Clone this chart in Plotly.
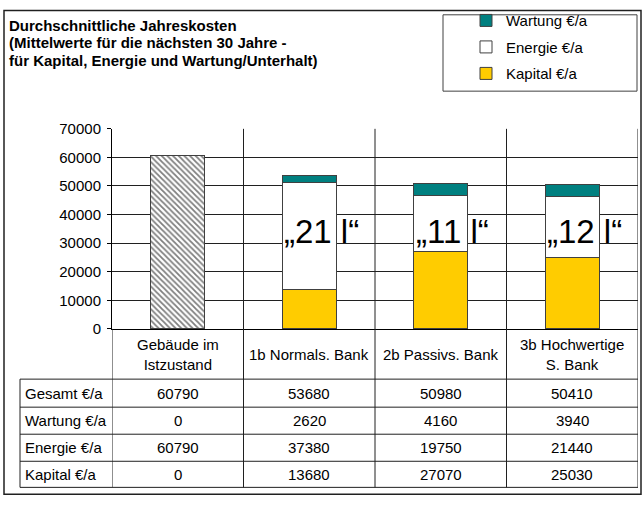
import plotly.graph_objects as go

# ---------------- data ----------------
categories = ["Gebäude im Istzustand", "1b Normals. Bank", "2b Passivs. Bank", "3b Hochwertige S. Bank"]
header_labels = ["Gebäude im<br>Istzustand", "1b Normals. Bank", "2b Passivs. Bank", "3b Hochwertige<br>S. Bank"]
wartung = [0, 2620, 4160, 3940]
energie = [60790, 37380, 19750, 21440]
kapital = [0, 13680, 27070, 25030]
bar_labels = ["", "„21 l“", "„11 l“", "„12 l“"]
row_names = ["Gesamt €/a", "Wartung €/a", "Energie €/a", "Kapital €/a"]
y_ticks = [0, 10000, 20000, 30000, 40000, 50000, 60000, 70000]
title_lines = ["Durchschnittliche Jahreskosten",
               "(Mittelwerte für die nächsten 30 Jahre -",
               "für Kapital, Energie und Wartung/Unterhalt)"]

gesamt = [w + e + k for w, e, k in zip(wartung, energie, kapital)]
table_rows = [gesamt, wartung, energie, kapital]

# ---------------- layout helpers ----------------
W, H = 643, 506
FONT = "Liberation Sans, Arial, sans-serif"


def PX(x):
    return x / W


def PY(y):
    return 1 - y / H


BARGAP = 0.59
LINE = "#202020"
EDGE = dict(color="#404040", width=1)

fig = go.Figure()
fig.add_trace(go.Bar(name="Kapital €/a", x=categories, y=kapital,
                     marker=dict(color="#FFCC00", line=EDGE),
                     legendgroup="k", legendrank=3))
fig.add_trace(go.Bar(name="Energie €/a", x=categories[1:], y=energie[1:],
                     marker=dict(color="#FFFFFF", line=EDGE),
                     legendgroup="e", legendrank=2))
fig.add_trace(go.Bar(name="Energie €/a", x=categories[:1], y=energie[:1], showlegend=False,
                     marker=dict(color="#FFFFFF", line=EDGE,
                                 pattern=dict(shape="\\", fgcolor="#000000", bgcolor="#FFFFFF",
                                              size=4, solidity=0.45)),
                     legendgroup="e", legendrank=2))
fig.add_trace(go.Bar(name="Wartung €/a", x=categories, y=wartung,
                     marker=dict(color="#008080", line=EDGE),
                     legendgroup="w", legendrank=1))

annotations = []
# title
for i, t in enumerate(title_lines):
    annotations.append(dict(text="<b>" + t + "</b>", xref="paper", yref="paper",
                            x=PX(7), y=PY(17 + i * 18), xanchor="left", yanchor="middle",
                            showarrow=False, font=dict(size=15, color="#000000", family=FONT)))
# in-bar labels
half = (1 - BARGAP) / 2
for i, t in enumerate(bar_labels):
    if t:
        annotations.append(dict(text=t, xref="x", yref="y", x=i - half, y=34000,
                                xanchor="left", yanchor="middle", showarrow=False,
                                font=dict(size=33, color="#000000", family=FONT)))
# table header
for i, t in enumerate(header_labels):
    annotations.append(dict(text=t, xref="x", yref="paper", x=i, y=PY(357),
                            xanchor="center", yanchor="middle", showarrow=False,
                            font=dict(size=15, color="#000000", family=FONT)))
row_centers = [397.5, 426, 454, 481.5]
for r, (name, vals) in enumerate(zip(row_names, table_rows)):
    annotations.append(dict(text=name, xref="paper", yref="paper", x=PX(23), y=PY(row_centers[r]),
                            xanchor="left", yanchor="middle", showarrow=False,
                            font=dict(size=15, color="#000000", family=FONT)))
    for i, v in enumerate(vals):
        annotations.append(dict(text=str(v), xref="x", yref="paper", x=i, y=PY(row_centers[r]),
                                xanchor="center", yanchor="middle", showarrow=False,
                                font=dict(size=15, color="#000000", family=FONT)))

shapes = []
# outer frame
shapes.append(dict(type="rect", xref="paper", yref="paper", x0=PX(4), y0=PY(1.5), x1=PX(641), y1=PY(502),
                   line=dict(color="#202020", width=1.5), layer="below"))
# legend frame
shapes.append(dict(type="rect", xref="paper", yref="paper", x0=PX(443), y0=PY(6), x1=PX(637), y1=PY(85),
                   line=dict(color="#404040", width=1)))
# vertical separators (category boundaries) through plot and table
for b in [0.5, 1.5, 2.5, 3.5]:
    shapes.append(dict(type="line", xref="x", yref="paper", x0=b, x1=b, y0=PY(124), y1=PY(495),
                       line=dict(color=LINE, width=1)))
# y-axis line continues through table
shapes.append(dict(type="line", xref="x", yref="paper", x0=-0.5, x1=-0.5, y0=PY(331), y1=PY(495),
                   line=dict(color=LINE, width=1)))
# table left border
shapes.append(dict(type="line", xref="paper", yref="paper", x0=PX(20), x1=PX(20), y0=PY(383), y1=PY(495),
                   line=dict(color=LINE, width=1)))
# table horizontal lines
for yy in [383, 412, 440, 468, 495]:
    shapes.append(dict(type="line", xref="paper", yref="paper", x0=PX(20), x1=PX(638), y0=PY(yy), y1=PY(yy),
                       line=dict(color=LINE, width=1)))

fig.update_layout(
    width=W, height=H,
    margin=dict(l=0, r=0, t=0, b=0),
    paper_bgcolor="#FFFFFF", plot_bgcolor="#FFFFFF",
    barmode="stack", bargap=BARGAP,
    font=dict(family=FONT, size=15, color="#000000"),
    showlegend=True,
    legend=dict(x=PX(466), y=PY(-5), xanchor="left", yanchor="top",
                traceorder="grouped", tracegroupgap=4,
                bgcolor="rgba(0,0,0,0)", borderwidth=0,
                font=dict(size=15, family=FONT, color="#000000")),
    xaxis=dict(domain=[PX(112), PX(638)], range=[-0.5, 3.5], showticklabels=False,
               showgrid=False, showline=True, linecolor="#000000", linewidth=1, ticks="",
               zeroline=False, fixedrange=True),
    yaxis=dict(domain=[PY(331), PY(124)], range=[0, 70000], tickvals=y_ticks,
               ticktext=[str(v) for v in y_ticks],
               showgrid=True, gridcolor=LINE, gridwidth=1,
               showline=True, linecolor="#000000", linewidth=1,
               ticks="outside", ticklen=4, tickcolor="#000000", ticklabelstandoff=3,
               tickfont=dict(size=15, family=FONT, color="#000000"),
               zeroline=False, fixedrange=True),
    annotations=annotations,
    shapes=shapes,
)

fig.write_html("out.html",
               config={"displayModeBar": False},
               post_script="document.body.style.margin='0px';document.body.style.overflow='hidden';")
